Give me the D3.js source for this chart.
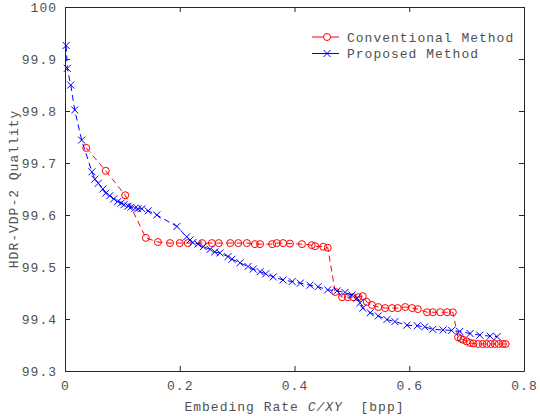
<!DOCTYPE html>
<html>
<head>
<meta charset="utf-8">
<script src="https://cdn.jsdelivr.net/npm/d3@7"></script>
<style>
body { margin: 0; background: #fff; }
text { font-family: "Liberation Mono", "DejaVu Sans Mono", monospace; fill: #505050; }
</style>
</head>
<body>
<script>
// chart size
var width = 540,
	height = 416;

// Conventional Method (red, circles)
var convRate = [0.037, 0.071, 0.105, 0.141, 0.162, 0.183, 0.200, 0.214, 0.239, 0.256, 0.268,
	0.288, 0.302, 0.317, 0.331, 0.340, 0.361, 0.369, 0.380, 0.392, 0.413, 0.430, 0.436, 0.450, 0.458,
	0.471, 0.483, 0.493, 0.502, 0.511, 0.519, 0.526, 0.535, 0.546, 0.558, 0.570, 0.580, 0.593,
	0.605, 0.615, 0.631, 0.641, 0.654, 0.666, 0.676, 0.685, 0.690, 0.694, 0.700, 0.706, 0.712,
	0.720, 0.728, 0.735, 0.742, 0.749, 0.756, 0.763, 0.768];
var convQuality = [99.729, 99.685, 99.638, 99.556, 99.548, 99.546, 99.546, 99.546, 99.546, 99.546, 99.546,
	99.546, 99.546, 99.546, 99.544, 99.544, 99.544, 99.546, 99.546, 99.545, 99.544, 99.542, 99.540, 99.539, 99.537,
	99.452, 99.442, 99.442, 99.442, 99.442, 99.444, 99.433, 99.427, 99.423, 99.421, 99.421, 99.421, 99.423,
	99.421, 99.419, 99.413, 99.413, 99.413, 99.413, 99.413, 99.365, 99.362, 99.360, 99.357, 99.354, 99.353,
	99.352, 99.352, 99.352, 99.352, 99.352, 99.352, 99.352, 99.352];

// Proposed Method (blue, crosses)
var propRate = [0.002, 0.004, 0.010, 0.017, 0.029, 0.047, 0.052, 0.058, 0.066, 0.071, 0.078, 0.085,
	0.092, 0.098, 0.103, 0.110, 0.115, 0.122, 0.127, 0.134, 0.145, 0.160, 0.195, 0.212, 0.218, 0.223,
	0.232, 0.241, 0.253, 0.261, 0.270, 0.284, 0.291, 0.305, 0.319, 0.328, 0.340, 0.350, 0.363, 0.380,
	0.396, 0.410, 0.427, 0.441, 0.458, 0.474, 0.488, 0.500, 0.509, 0.514, 0.519, 0.532, 0.546, 0.561,
	0.575, 0.596, 0.614, 0.627, 0.641, 0.659, 0.674, 0.688, 0.706, 0.723, 0.741, 0.753];
var propQuality = [99.926, 99.882, 99.850, 99.802, 99.744, 99.683, 99.669, 99.661, 99.650, 99.642, 99.637, 99.631,
	99.626, 99.623, 99.620, 99.617, 99.615, 99.613, 99.612, 99.612, 99.608, 99.600, 99.578, 99.558, 99.552, 99.547,
	99.544, 99.539, 99.534, 99.529, 99.527, 99.520, 99.515, 99.508, 99.501, 99.496, 99.491, 99.487, 99.481, 99.475,
	99.472, 99.469, 99.465, 99.462, 99.456, 99.454, 99.451, 99.446, 99.440, 99.431, 99.421, 99.412, 99.406, 99.399,
	99.395, 99.388, 99.387, 99.385, 99.380, 99.379, 99.378, 99.376, 99.372, 99.369, 99.367, 99.366];

var xTicks = [0, 0.2, 0.4, 0.6, 0.8];
var xTickLabels = ["0", "0.2", "0.4", "0.6", "0.8"];
var yTicks = [99.3, 99.4, 99.5, 99.6, 99.7, 99.8, 99.9, 100];
var yTickLabels = ["99.3", "99.4", "99.5", "99.6", "99.7", "99.8", "99.9", "100"];

var margin = {top: 7, right: 16, bottom: 45, left: 65};
var plotW = width - margin.left - margin.right,
	plotH = height - margin.top - margin.bottom;

var svg = d3.select("body").append("svg")
	.attr("width", width)
	.attr("height", height);

var xScale = d3.scaleLinear().domain([0, 0.8]).range([margin.left, margin.left + plotW]);
var yScale = d3.scaleLinear().domain([99.3, 100]).range([margin.top + plotH, margin.top]);

var toPoints = function(xs, ys) {
	return xs.map(function(d, i) { return {x: d, y: ys[i]}; });
};
var conv = toPoints(convRate, convQuality);
var prop = toPoints(propRate, propQuality);

var line = d3.line()
	.x(function(d) { return xScale(d.x); })
	.y(function(d) { return yScale(d.y); });

// red series first, blue on top
svg.append("path")
	.datum(conv)
	.attr("d", line)
	.attr("fill", "none")
	.attr("stroke", "#ff0000")
	.attr("stroke-width", 1)
	.attr("stroke-dasharray", "6,4");
svg.selectAll("circle.conv")
	.data(conv)
	.enter()
	.append("circle")
	.attr("class", "conv")
	.attr("cx", function(d) { return xScale(d.x); })
	.attr("cy", function(d) { return yScale(d.y); })
	.attr("r", 3.5)
	.attr("fill", "none")
	.attr("stroke", "#ff0000")
	.attr("stroke-width", 1);

svg.append("path")
	.datum(prop)
	.attr("d", line)
	.attr("fill", "none")
	.attr("stroke", "#0000ff")
	.attr("stroke-width", 1)
	.attr("stroke-dasharray", "6,4");
var cross = "M-3.5,-3.5L3.5,3.5M-3.5,3.5L3.5,-3.5";
svg.selectAll("path.prop")
	.data(prop)
	.enter()
	.append("path")
	.attr("class", "prop")
	.attr("transform", function(d) { return "translate(" + xScale(d.x) + "," + yScale(d.y) + ")"; })
	.attr("d", cross)
	.attr("stroke", "#0000ff")
	.attr("stroke-width", 1);

// axes: bottom/left with labels, top/right tick marks only
var xAxis = d3.axisBottom(xScale).tickValues(xTicks)
	.tickFormat(function(d, i) { return xTickLabels[i]; })
	.tickSizeInner(-5).tickSizeOuter(0).tickPadding(10);
var yAxis = d3.axisLeft(yScale).tickValues(yTicks)
	.tickFormat(function(d, i) { return yTickLabels[i]; })
	.tickSizeInner(-5).tickSizeOuter(0).tickPadding(8);

svg.append("g")
	.attr("transform", "translate(0," + (margin.top + plotH) + ")")
	.call(xAxis);
svg.append("g")
	.attr("transform", "translate(" + margin.left + ",0)")
	.call(yAxis);
svg.append("g")
	.attr("transform", "translate(0," + margin.top + ")")
	.call(d3.axisTop(xScale).tickValues(xTicks).tickFormat("").tickSizeInner(-5).tickSizeOuter(0));
svg.append("g")
	.attr("transform", "translate(" + (margin.left + plotW) + ",0)")
	.call(d3.axisRight(yScale).tickValues(yTicks).tickFormat("").tickSizeInner(-5).tickSizeOuter(0));

svg.selectAll(".domain, .tick line").attr("stroke", "#262626");
svg.selectAll(".tick text")
	.style("font-family", "Liberation Mono, monospace")
	.style("font-size", "13px")
	.style("letter-spacing", "1px")
	.attr("fill", "#505050");

// axis labels
var xl = svg.append("text")
	.attr("x", margin.left + plotW / 2)
	.attr("y", 411)
	.attr("text-anchor", "middle")
	.style("white-space", "pre")
	.style("font-size", "13px")
	.style("letter-spacing", "1px");
xl.append("tspan").text("Embeding Rate ");
xl.append("tspan").style("font-style", "italic").text("C/XY");
xl.append("tspan").text("  [bpp]");

svg.append("text")
	.attr("transform", "translate(18," + (margin.top + plotH / 2) + ") rotate(-90)")
	.attr("text-anchor", "middle")
	.style("font-size", "13px")
	.style("letter-spacing", "1px")
	.text("HDR-VDP-2 Quallity");

// legend
var legend = [
	{name: "Conventional Method", color: "#ff0000", marker: "o"},
	{name: "Proposed Method", color: "#0000ff", marker: "x"}
];
var lg = svg.selectAll("g.legend")
	.data(legend)
	.enter()
	.append("g")
	.attr("class", "legend")
	.attr("transform", function(d, i) { return "translate(312," + (37 + i * 16.5) + ")"; });
lg.append("line")
	.attr("x1", 0).attr("x2", 27)
	.attr("stroke", function(d) { return d.color; })
	.attr("stroke-width", 1);
lg.each(function(d) {
	var g = d3.select(this);
	if (d.marker === "o") {
		g.append("circle").attr("cx", 15).attr("r", 3.5)
			.attr("fill", "#fff").attr("stroke", d.color);
	} else {
		g.append("path").attr("transform", "translate(15,0)").attr("d", cross)
			.attr("stroke", d.color);
	}
});
lg.append("text")
	.attr("x", 35)
	.attr("dy", "0.35em")
	.style("font-size", "13px")
	.style("letter-spacing", "1px")
	.text(function(d) { return d.name; });
</script>
</body>
</html>
